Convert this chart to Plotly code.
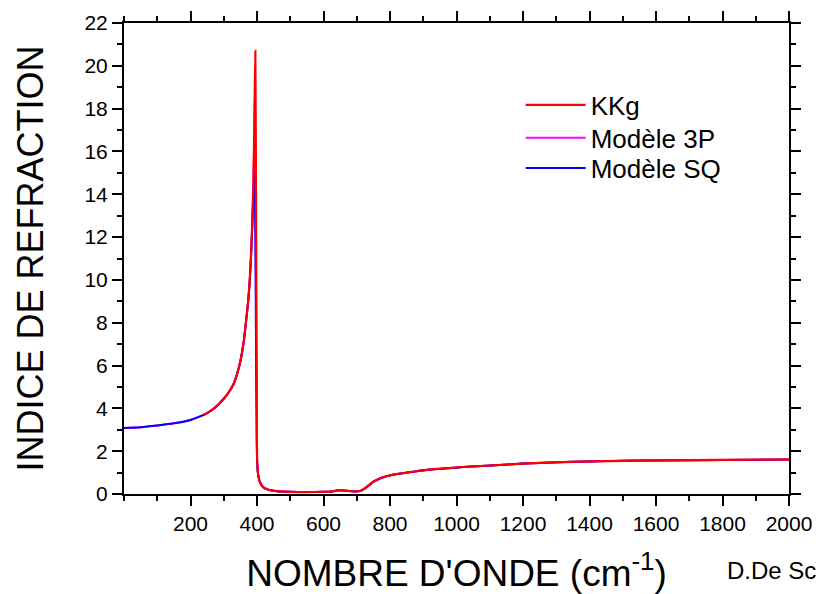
import plotly.graph_objects as go

# Refractive index n(σ) — wavenumber grids (cm-1) and values
wn_kkg = [240, 250, 275, 300, 315, 330, 340, 350, 360, 368, 374, 379, 383, 386, 389, 391, 393,
          395, 397, 399, 400.5, 404, 409, 418, 429, 445, 460, 500, 550, 600, 620, 640, 650,
          670, 695, 710, 725, 740, 750, 765, 780, 800, 820, 870, 920, 970, 1020, 1090, 1200,
          1300, 1400, 1500, 1600, 1800, 2000]
n_kkg = [3.70, 3.78, 4.05, 4.45, 4.75, 5.15, 5.60, 6.20, 7.10, 8.20, 9.10, 10.2, 11.5, 12.8,
         14.5, 16.3, 18.5, 20.7, 14.0, 6.0, 1.6, 0.85, 0.55, 0.33, 0.23, 0.16, 0.13, 0.10,
         0.09, 0.10, 0.11, 0.16, 0.17, 0.15, 0.12, 0.14, 0.27, 0.45, 0.58, 0.69, 0.78, 0.87,
         0.93, 1.04, 1.14, 1.20, 1.26, 1.32, 1.42, 1.48, 1.52, 1.55, 1.57, 1.59, 1.61]

wn_model = [0, 50, 100, 150, 200, 225, 250, 275, 300, 315, 330, 340, 350, 360, 368, 374, 379,
            383, 386, 389, 391, 393, 395, 397, 399, 400.5, 404, 409, 418, 429, 445, 460, 500,
            550, 600, 620, 640, 650, 670, 695, 710, 725, 740, 750, 765, 780, 800, 820, 870,
            920, 970, 1020, 1090, 1200, 1300, 1400, 1500, 1600, 1800, 2000]
n_3p = [3.08, 3.12, 3.20, 3.30, 3.46, 3.60, 3.78, 4.05, 4.45, 4.75, 5.15, 5.60, 6.20, 7.10,
        8.20, 9.10, 10.2, 11.5, 12.8, 14.4, 16.0, 18.3, 15.0, 9.0, 4.0, 1.5, 0.85, 0.55, 0.33,
        0.23, 0.16, 0.13, 0.10, 0.09, 0.10, 0.11, 0.16, 0.17, 0.15, 0.12, 0.14, 0.27, 0.45,
        0.58, 0.69, 0.78, 0.87, 0.93, 1.04, 1.14, 1.20, 1.26, 1.32, 1.42, 1.48, 1.52, 1.55,
        1.57, 1.59, 1.61]
n_sq = [3.08, 3.12, 3.20, 3.30, 3.46, 3.60, 3.78, 4.05, 4.45, 4.75, 5.15, 5.60, 6.20, 7.10,
        8.20, 9.10, 10.2, 11.4, 12.6, 13.8, 14.6, 15.0, 12.0, 7.0, 3.2, 1.4, 0.85, 0.55, 0.33,
        0.23, 0.16, 0.13, 0.10, 0.09, 0.10, 0.11, 0.16, 0.17, 0.15, 0.12, 0.14, 0.27, 0.45,
        0.58, 0.69, 0.78, 0.87, 0.93, 1.04, 1.14, 1.20, 1.26, 1.32, 1.42, 1.48, 1.52, 1.55,
        1.57, 1.59, 1.61]

x_ticks = [200, 400, 600, 800, 1000, 1200, 1400, 1600, 1800, 2000]
y_ticks = list(range(0, 23, 2))

FONT = "Arial, 'Liberation Sans', sans-serif"
SPLINE = dict(shape="spline", smoothing=0.6)

fig = go.Figure()
fig.add_trace(go.Scatter(x=wn_model, y=n_3p, name="Modèle 3P", mode="lines",
                         line=dict(color="#ff00ff", width=2, **SPLINE), legend="legend2"))
fig.add_trace(go.Scatter(x=wn_model, y=n_sq, name="Modèle SQ", mode="lines",
                         line=dict(color="#0000ff", width=2, **SPLINE), legend="legend3"))
fig.add_trace(go.Scatter(x=wn_kkg, y=n_kkg, name="KKg", mode="lines",
                         line=dict(color="#ff0000", width=2.2, **SPLINE), legend="legend"))

axis_common = dict(
    showline=True, linecolor="black", linewidth=2, mirror="allticks",
    ticks="outside", ticklen=10, tickwidth=2, tickcolor="black",
    showgrid=False, zeroline=False, automargin=False,
    tickfont=dict(family=FONT, size=21, color="black"),
)

fig.update_xaxes(
    range=[0, 2000], tickvals=x_ticks, ticktext=[str(v) for v in x_ticks],
    minor=dict(ticks="outside", ticklen=5, tickwidth=2, tickcolor="black", dtick=100,
               tick0=0, showgrid=False),
    title=dict(text="NOMBRE D'ONDE (cm<sup>-1</sup>)", font=dict(family=FONT, size=37,
               color="black"), standoff=28),
    **axis_common,
)
fig.update_yaxes(
    range=[0, 22], tickvals=y_ticks,
    minor=dict(ticks="outside", ticklen=5, tickwidth=2, tickcolor="black", dtick=1,
               tick0=0, showgrid=False),
    title=dict(text="INDICE DE REFRACTION", font=dict(family=FONT, size=36, color="black"),
               standoff=30),
    **axis_common,
)

fig.add_annotation(text="D.De Sc", xref="paper", yref="paper", x=1.0, y=-0.163,
                   xanchor="left", yanchor="middle", xshift=-64, showarrow=False,
                   font=dict(family=FONT, size=24, color="black"))

# one legend box per series, stacked in the upper right of the plot
legend_style = dict(x=0.5965, xanchor="left", yanchor="top", bgcolor="rgba(0,0,0,0)",
                    borderwidth=0, itemwidth=60,
                    font=dict(family=FONT, size=26, color="black"))

fig.update_layout(
    width=818, height=594,
    margin=dict(l=124, r=29, t=23, b=100),
    paper_bgcolor="white", plot_bgcolor="white",
    showlegend=True,
    legend=dict(y=0.876, **legend_style),
    legend2=dict(y=0.806, **legend_style),
    legend3=dict(y=0.742, **legend_style),
)

fig.write_html("out.html")
